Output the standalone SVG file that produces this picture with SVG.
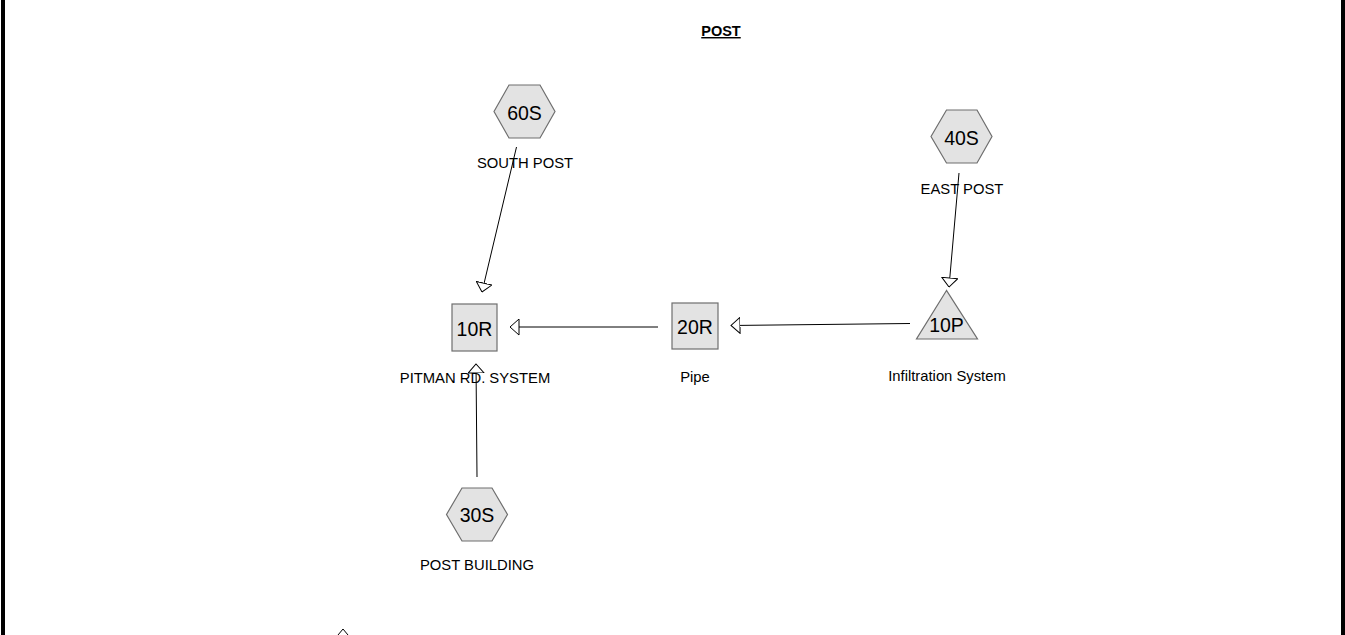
<svg xmlns="http://www.w3.org/2000/svg" width="1345" height="635" viewBox="0 0 1345 635">
<defs>
<style>
.shape{fill:#e3e3e3;stroke:#6e6e6e;stroke-width:1.2}
.id{font-family:"Liberation Sans",Arial,sans-serif;font-size:19.5px;fill:#000;text-anchor:middle}
.lbl{font-family:"Liberation Sans",Arial,sans-serif;font-size:14.8px;fill:#000;text-anchor:middle}
.title{font-family:"Liberation Sans",Arial,sans-serif;font-size:14.5px;font-weight:bold;fill:#000;text-anchor:middle;text-decoration:underline}
.edge{stroke:#000;stroke-width:1;fill:none;marker-end:url(#arr)}
</style>
<marker id="arr" viewBox="0 0 10 17" markerUnits="userSpaceOnUse" markerWidth="10" markerHeight="17" refX="9.5" refY="8.5" orient="auto">
<path d="M0.5,0.5 L9.5,8.5 L0.5,16.5 Z" fill="#fff" stroke="#000" stroke-width="1"/>
</marker>
</defs>
<rect x="0" y="0" width="1345" height="635" fill="#fff"/>
<rect x="1" y="0" width="4" height="635" fill="#000"/>
<rect x="1341" y="0" width="4" height="635" fill="#000"/>
<text class="title" x="721" y="36">POST</text>
<g id="connectors">
<line class="edge" x1="516.5" y1="147" x2="482" y2="292"/>
<line class="edge" x1="959" y1="173" x2="949" y2="287"/>
<line class="edge" x1="658" y1="327" x2="510" y2="327"/>
<line class="edge" x1="910" y1="323.5" x2="731" y2="325.5"/>
<line class="edge" x1="477" y1="477" x2="476" y2="364"/>
<polyline points="338,635 343,629 348,635" fill="none" stroke="#000" stroke-width="1"/>
</g>
<g id="n60S">
<polygon class="shape" points="494,111.5 509,85 540,85 555,111.5 540,138 509,138"/>
<text class="id" x="524.5" y="120">60S</text>
<text class="lbl" x="525" y="168">SOUTH POST</text>
</g>
<g id="n40S">
<polygon class="shape" points="931,136.5 946.5,110 977,110 992,136.5 977,163 946.5,163"/>
<text class="id" x="961.5" y="145">40S</text>
<text class="lbl" x="962" y="194">EAST POST</text>
</g>
<g id="n10R">
<rect class="shape" x="452" y="304" width="45" height="47"/>
<text class="id" x="474.5" y="335.5">10R</text>
<text class="lbl" x="475" y="382.5">PITMAN RD. SYSTEM</text>
</g>
<g id="n20R">
<rect class="shape" x="672" y="303" width="46" height="46"/>
<text class="id" x="695" y="334">20R</text>
<text class="lbl" x="695" y="382">Pipe</text>
</g>
<g id="n10P">
<polygon class="shape" points="946.5,290.5 916.5,339 977.5,339"/>
<text class="id" x="946.5" y="332">10P</text>
<text class="lbl" x="947" y="381">Infiltration System</text>
</g>
<g id="n30S">
<polygon class="shape" points="446.5,514.5 462,488 492,488 507.5,514.5 492,541 462,541"/>
<text class="id" x="477" y="522">30S</text>
<text class="lbl" x="477" y="570">POST BUILDING</text>
</g>
</svg>
